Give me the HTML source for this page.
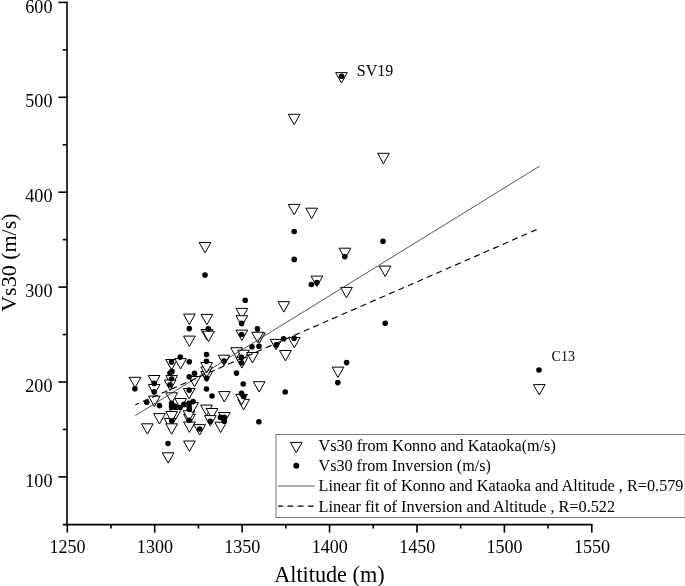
<!DOCTYPE html>
<html><head><meta charset="utf-8"><title>Vs30 vs Altitude</title>
<style>html,body{margin:0;padding:0;background:#fff}svg{display:block}text{font-family:"Liberation Serif","Times New Roman",serif;fill:#000}</style></head><body>
<svg width="685" height="586" viewBox="0 0 685 586">
<rect width="685" height="586" fill="#fff"/>
<g stroke="#000" stroke-width="1.6" fill="none">
<path d="M67.0 1.60V525.4"/>
<path d="M62.8 524.6H592.6"/>
<path d="M58.4 476.90H67.0"/>
<path d="M58.4 382.00H67.0"/>
<path d="M58.4 287.10H67.0"/>
<path d="M58.4 192.20H67.0"/>
<path d="M58.4 97.30H67.0"/>
<path d="M58.4 2.40H67.0"/>
<path d="M62.8 429.45H67.0"/>
<path d="M62.8 334.55H67.0"/>
<path d="M62.8 239.65H67.0"/>
<path d="M62.8 144.75H67.0"/>
<path d="M62.8 49.85H67.0"/>
<path d="M67.30 524.6V532.6"/>
<path d="M154.71 524.6V532.6"/>
<path d="M242.13 524.6V532.6"/>
<path d="M329.55 524.6V532.6"/>
<path d="M416.96 524.6V532.6"/>
<path d="M504.38 524.6V532.6"/>
<path d="M591.79 524.6V532.6"/>
<path d="M111.01 524.6V528.6"/>
<path d="M198.42 524.6V528.6"/>
<path d="M285.84 524.6V528.6"/>
<path d="M373.25 524.6V528.6"/>
<path d="M460.67 524.6V528.6"/>
<path d="M548.08 524.6V528.6"/>
</g>
<g font-size="19px">
<text transform="translate(52.5 487.0) scale(0.955 1.02)" text-anchor="end">100</text>
<text transform="translate(52.5 392.1) scale(0.955 1.02)" text-anchor="end">200</text>
<text transform="translate(52.5 297.2) scale(0.955 1.02)" text-anchor="end">300</text>
<text transform="translate(52.5 202.3) scale(0.955 1.02)" text-anchor="end">400</text>
<text transform="translate(52.5 107.4) scale(0.955 1.02)" text-anchor="end">500</text>
<text transform="translate(52.5 12.5) scale(0.955 1.02)" text-anchor="end">600</text>
<text transform="translate(67.5 553.1) scale(0.95 1.02)" text-anchor="middle">1250</text>
<text transform="translate(154.9 553.1) scale(0.95 1.02)" text-anchor="middle">1300</text>
<text transform="translate(242.3 553.1) scale(0.95 1.02)" text-anchor="middle">1350</text>
<text transform="translate(329.7 553.1) scale(0.95 1.02)" text-anchor="middle">1400</text>
<text transform="translate(417.2 553.1) scale(0.95 1.02)" text-anchor="middle">1450</text>
<text transform="translate(504.6 553.1) scale(0.95 1.02)" text-anchor="middle">1500</text>
<text transform="translate(592.0 553.1) scale(0.95 1.02)" text-anchor="middle">1550</text>
</g>
<text transform="translate(329.4 581.7) scale(1.01 1.07)" font-size="22px" text-anchor="middle">Altitude (m)</text>
<text transform="translate(16.1 262.6) rotate(-90)" font-size="22px" text-anchor="middle">Vs30 (m/s)</text>
<g stroke="#000" stroke-width="1" fill="#fff" stroke-linejoin="miter">
<path d="M129.2 377.3h11.7l-5.85 10.4z"/>
<path d="M148.3 375.5h11.7l-5.85 10.4z"/>
<path d="M148.3 384.5h11.7l-5.85 10.4z"/>
<path d="M148.5 396.1h11.7l-5.85 10.4z"/>
<path d="M153.6 413.6h11.7l-5.85 10.4z"/>
<path d="M141.5 423.8h11.7l-5.85 10.4z"/>
<path d="M165.7 359.5h11.7l-5.85 10.4z"/>
<path d="M174.7 358.6h11.7l-5.85 10.4z"/>
<path d="M165.8 375.6h11.7l-5.85 10.4z"/>
<path d="M164.3 380.0h11.7l-5.85 10.4z"/>
<path d="M165.8 392.8h11.7l-5.85 10.4z"/>
<path d="M174.8 398.5h11.7l-5.85 10.4z"/>
<path d="M169.6 409.5h11.7l-5.85 10.4z"/>
<path d="M164.2 418.4h11.7l-5.85 10.4z"/>
<path d="M165.8 411.5h11.7l-5.85 10.4z"/>
<path d="M165.8 423.8h11.7l-5.85 10.4z"/>
<path d="M162.3 452.8h11.7l-5.85 10.4z"/>
<path d="M183.5 314.1h11.7l-5.85 10.4z"/>
<path d="M183.5 336.1h11.7l-5.85 10.4z"/>
<path d="M188.7 376.5h11.7l-5.85 10.4z"/>
<path d="M183.3 388.5h11.7l-5.85 10.4z"/>
<path d="M183.6 414.3h11.7l-5.85 10.4z"/>
<path d="M183.2 410.7h11.7l-5.85 10.4z"/>
<path d="M186.8 402.6h11.7l-5.85 10.4z"/>
<path d="M183.6 422.0h11.7l-5.85 10.4z"/>
<path d="M183.6 441.0h11.7l-5.85 10.4z"/>
<path d="M193.8 424.6h11.7l-5.85 10.4z"/>
<path d="M199.2 242.5h11.7l-5.85 10.4z"/>
<path d="M201.0 314.4h11.7l-5.85 10.4z"/>
<path d="M201.0 329.5h11.7l-5.85 10.4z"/>
<path d="M202.7 331.2h11.7l-5.85 10.4z"/>
<path d="M200.8 371.5h11.7l-5.85 10.4z"/>
<path d="M200.8 367.0h11.7l-5.85 10.4z"/>
<path d="M200.8 362.5h11.7l-5.85 10.4z"/>
<path d="M200.7 405.1h11.7l-5.85 10.4z"/>
<path d="M206.2 408.5h11.7l-5.85 10.4z"/>
<path d="M204.5 415.6h11.7l-5.85 10.4z"/>
<path d="M218.2 355.2h11.7l-5.85 10.4z"/>
<path d="M218.5 391.6h11.7l-5.85 10.4z"/>
<path d="M218.5 412.5h11.7l-5.85 10.4z"/>
<path d="M214.8 422.2h11.7l-5.85 10.4z"/>
<path d="M230.7 347.7h11.7l-5.85 10.4z"/>
<path d="M236.0 308.4h11.7l-5.85 10.4z"/>
<path d="M236.0 315.7h11.7l-5.85 10.4z"/>
<path d="M236.0 330.1h11.7l-5.85 10.4z"/>
<path d="M237.6 350.2h11.7l-5.85 10.4z"/>
<path d="M236.0 357.7h11.7l-5.85 10.4z"/>
<path d="M237.8 399.4h11.7l-5.85 10.4z"/>
<path d="M235.8 394.4h11.7l-5.85 10.4z"/>
<path d="M246.6 352.5h11.7l-5.85 10.4z"/>
<path d="M253.5 332.9h11.7l-5.85 10.4z"/>
<path d="M251.8 332.2h11.7l-5.85 10.4z"/>
<path d="M253.3 381.7h11.7l-5.85 10.4z"/>
<path d="M270.2 339.4h11.7l-5.85 10.4z"/>
<path d="M278.0 301.7h11.7l-5.85 10.4z"/>
<path d="M279.6 350.5h11.7l-5.85 10.4z"/>
<path d="M288.3 114.3h11.7l-5.85 10.4z"/>
<path d="M288.3 204.4h11.7l-5.85 10.4z"/>
<path d="M288.4 337.5h11.7l-5.85 10.4z"/>
<path d="M305.8 208.2h11.7l-5.85 10.4z"/>
<path d="M311.0 276.1h11.7l-5.85 10.4z"/>
<path d="M339.1 248.2h11.7l-5.85 10.4z"/>
<path d="M340.6 287.4h11.7l-5.85 10.4z"/>
<path d="M332.1 367.1h11.7l-5.85 10.4z"/>
<path d="M335.6 72.6h11.7l-5.85 10.4z"/>
<path d="M377.6 153.3h11.7l-5.85 10.4z"/>
<path d="M379.3 266.1h11.7l-5.85 10.4z"/>
<path d="M533.4 384.6h11.7l-5.85 10.4z"/>
</g>
<g fill="#000">
<circle cx="134.9" cy="388.8" r="2.8"/>
<circle cx="154.2" cy="383.4" r="2.8"/>
<circle cx="154.2" cy="391.8" r="2.8"/>
<circle cx="146.7" cy="402.2" r="2.8"/>
<circle cx="159.4" cy="405.6" r="2.8"/>
<circle cx="180.3" cy="357.1" r="2.8"/>
<circle cx="171.6" cy="362.1" r="2.8"/>
<circle cx="189.3" cy="361.8" r="2.8"/>
<circle cx="172.0" cy="371.4" r="2.8"/>
<circle cx="170.0" cy="373.0" r="2.8"/>
<circle cx="171.6" cy="379.0" r="2.8"/>
<circle cx="170.0" cy="384.8" r="2.8"/>
<circle cx="189.2" cy="376.8" r="2.8"/>
<circle cx="194.5" cy="373.4" r="2.8"/>
<circle cx="189.1" cy="390.1" r="2.8"/>
<circle cx="171.6" cy="403.3" r="2.8"/>
<circle cx="171.5" cy="406.8" r="2.8"/>
<circle cx="175.4" cy="406.2" r="2.8"/>
<circle cx="180.1" cy="407.5" r="2.8"/>
<circle cx="183.9" cy="404.4" r="2.8"/>
<circle cx="189.0" cy="403.4" r="2.8"/>
<circle cx="193.1" cy="401.6" r="2.8"/>
<circle cx="189.0" cy="406.1" r="2.8"/>
<circle cx="189.4" cy="409.2" r="2.8"/>
<circle cx="171.7" cy="420.8" r="2.8"/>
<circle cx="189.1" cy="420.3" r="2.8"/>
<circle cx="168.0" cy="443.5" r="2.8"/>
<circle cx="199.7" cy="429.0" r="2.8"/>
<circle cx="189.3" cy="328.6" r="2.8"/>
<circle cx="208.3" cy="328.8" r="2.8"/>
<circle cx="205.0" cy="275.1" r="2.8"/>
<circle cx="206.5" cy="354.5" r="2.8"/>
<circle cx="206.5" cy="361.2" r="2.8"/>
<circle cx="206.6" cy="378.2" r="2.8"/>
<circle cx="206.5" cy="389.0" r="2.8"/>
<circle cx="212.0" cy="396.0" r="2.8"/>
<circle cx="210.3" cy="421.2" r="2.8"/>
<circle cx="224.1" cy="361.0" r="2.8"/>
<circle cx="220.5" cy="417.4" r="2.8"/>
<circle cx="224.3" cy="417.4" r="2.8"/>
<circle cx="224.3" cy="421.3" r="2.8"/>
<circle cx="236.5" cy="373.1" r="2.8"/>
<circle cx="245.2" cy="300.2" r="2.8"/>
<circle cx="241.6" cy="323.4" r="2.8"/>
<circle cx="241.6" cy="334.5" r="2.8"/>
<circle cx="241.5" cy="357.4" r="2.8"/>
<circle cx="241.6" cy="362.8" r="2.8"/>
<circle cx="243.2" cy="384.0" r="2.8"/>
<circle cx="241.5" cy="393.4" r="2.8"/>
<circle cx="243.5" cy="396.5" r="2.8"/>
<circle cx="252.0" cy="346.7" r="2.8"/>
<circle cx="259.0" cy="346.3" r="2.8"/>
<circle cx="257.4" cy="328.9" r="2.8"/>
<circle cx="258.9" cy="421.7" r="2.8"/>
<circle cx="276.4" cy="344.9" r="2.8"/>
<circle cx="283.6" cy="338.8" r="2.8"/>
<circle cx="294.1" cy="338.2" r="2.8"/>
<circle cx="285.2" cy="392.0" r="2.8"/>
<circle cx="294.2" cy="231.5" r="2.8"/>
<circle cx="294.2" cy="259.4" r="2.8"/>
<circle cx="311.4" cy="284.5" r="2.8"/>
<circle cx="316.9" cy="282.6" r="2.8"/>
<circle cx="344.8" cy="256.6" r="2.8"/>
<circle cx="346.6" cy="362.6" r="2.8"/>
<circle cx="337.8" cy="382.6" r="2.8"/>
<circle cx="341.6" cy="76.3" r="2.8"/>
<circle cx="383.0" cy="241.2" r="2.8"/>
<circle cx="385.2" cy="323.2" r="2.8"/>
<circle cx="539.0" cy="370.0" r="2.8"/>
</g>
<path d="M135.3 415.6L539.5 166.2" stroke="#2a2a2a" stroke-width="0.8" fill="none"/>
<path d="M135.3 404.8L539.6 228.3" stroke="#000" stroke-width="1.15" stroke-dasharray="6.1 4.23" stroke-dashoffset="2.15" fill="none"/>
<text x="356.8" y="75.5" font-size="16px">SV19</text>
<text x="551.6" y="361" font-size="14px">C13</text>
<rect x="276" y="434.5" width="409.3" height="83" fill="#fff" stroke="#777" stroke-width="1"/>
<path d="M290.4 442.4h11.7l-5.85 10.4z" stroke="#000" stroke-width="1" fill="none"/>
<circle cx="296.3" cy="465.8" r="2.95" fill="#000"/>
<path d="M278 485.95H314.9" stroke="#606060" stroke-width="1.1"/>
<path d="M278 506.1H314.1" stroke="#000" stroke-width="1.15" stroke-dasharray="5.8 4.4" stroke-dashoffset="0.7"/>
<g font-size="16.2px">
<text x="318.5" y="451" textLength="237.3" lengthAdjust="spacingAndGlyphs">Vs30 from Konno and Kataoka(m/s)</text>
<text x="318.5" y="471.2" textLength="172.4" lengthAdjust="spacingAndGlyphs">Vs30 from Inversion (m/s)</text>
<text x="318.5" y="491.4" textLength="365" lengthAdjust="spacingAndGlyphs">Linear fit of Konno and Kataoka and Altitude , R=0.579</text>
<text x="318.5" y="511.6" textLength="296.6" lengthAdjust="spacingAndGlyphs">Linear fit of Inversion and Altitude , R=0.522</text>
</g>
</svg></body></html>
